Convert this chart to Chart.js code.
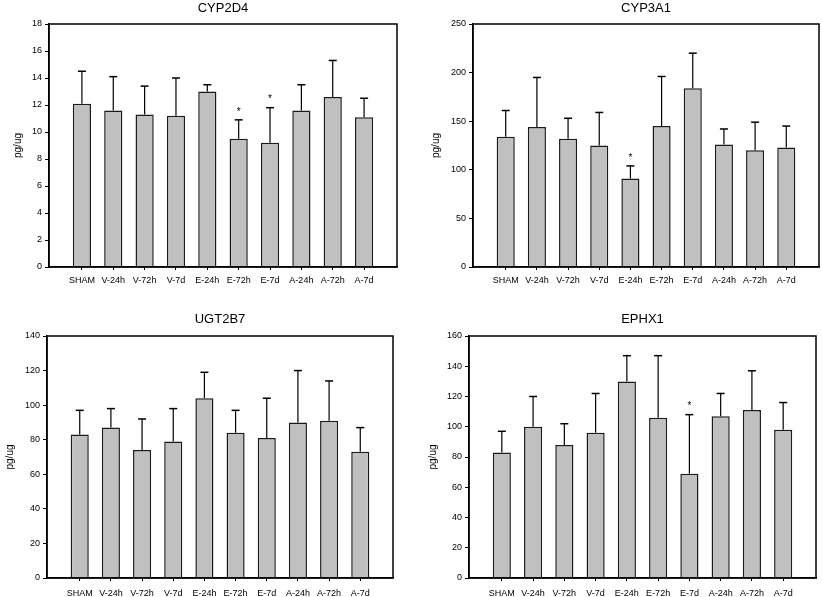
<!DOCTYPE html>
<html>
<head>
<meta charset="utf-8">
<script src="https://cdn.jsdelivr.net/npm/chart.js@4.4.1/dist/chart.umd.min.js"></script>
<style>
  html, body { margin: 0; padding: 0; background: #fff; overflow: hidden; }
  .panel { position: absolute; }
</style>
</head>
<body>
<div class="panel" id="p1"><canvas id="c1"></canvas></div>
<div class="panel" id="p2"><canvas id="c2"></canvas></div>
<div class="panel" id="p3"><canvas id="c3"></canvas></div>
<div class="panel" id="p4"><canvas id="c4"></canvas></div>
<script>
// Data
const categories = ['SHAM', 'V-24h', 'V-72h', 'V-7d', 'E-24h', 'E-72h', 'E-7d', 'A-24h', 'A-72h', 'A-7d'];

const cyp2d4Mean = [12.1, 11.6, 11.3, 11.2, 13.0, 9.5, 9.2, 11.6, 12.6, 11.1];
const cyp2d4Err = [2.4, 2.5, 2.1, 2.8, 0.5, 1.4, 2.6, 1.9, 2.7, 1.4];
const cyp2d4Stars = [5, 6];
const cyp2d4Ticks = [0, 2, 4, 6, 8, 10, 12, 14, 16, 18];

const cyp3a1Mean = [134, 144, 132, 125, 91, 145, 184, 126, 120, 123];
const cyp3a1Err = [27, 51, 21, 34, 13, 51, 36, 16, 29, 22];
const cyp3a1Stars = [4];
const cyp3a1Ticks = [0, 50, 100, 150, 200, 250];

const ugt2b7Mean = [83, 87, 74, 79, 104, 84, 81, 90, 91, 73];
const ugt2b7Err = [14, 11, 18, 19, 15, 13, 23, 30, 23, 14];
const ugt2b7Stars = [];
const ugt2b7Ticks = [0, 20, 40, 60, 80, 100, 120, 140];

const ephx1Mean = [83, 100, 88, 96, 130, 106, 69, 107, 111, 98];
const ephx1Err = [14, 20, 14, 26, 17, 41, 39, 15, 26, 18];
const ephx1Stars = [6];
const ephx1Ticks = [0, 20, 40, 60, 80, 100, 120, 140, 160];

const FONT = 'Liberation Sans, Arial, sans-serif';

// box around the plot area
const frame = {
  id: 'frame',
  afterDatasetsDraw(chart) {
    const a = chart.chartArea, ctx = chart.ctx;
    ctx.save();
    ctx.strokeStyle = '#000';
    ctx.lineWidth = 1.5;
    ctx.strokeRect(a.left, a.top, a.right - a.left, a.bottom - a.top);
    ctx.restore();
  }
};

// upper error bars + significance stars
function errorBars(mean, err, stars) {
  return {
    id: 'errorBars',
    afterDatasetsDraw(chart) {
      const ctx = chart.ctx, xs = chart.scales.x, ys = chart.scales.y;
      ctx.save();
      ctx.strokeStyle = '#000';
      ctx.fillStyle = '#000';
      ctx.font = '10px ' + FONT;
      ctx.textAlign = 'center';
      ctx.textBaseline = 'middle';
      mean.forEach((m, i) => {
        const px = xs.getPixelForValue(i);
        const y0 = ys.getPixelForValue(m);
        const y1 = ys.getPixelForValue(m + err[i]);
        ctx.lineWidth = 1.2;
        ctx.beginPath(); ctx.moveTo(px, y0); ctx.lineTo(px, y1); ctx.stroke();
        ctx.lineWidth = 1.5;
        ctx.beginPath(); ctx.moveTo(px - 4, y1); ctx.lineTo(px + 4, y1); ctx.stroke();
        if (stars.includes(i)) ctx.fillText('*', px, y1 - 8);
      });
      ctx.restore();
    }
  };
}

// panel geometry in page pixels
function makeChart(n, box, title, mean, err, stars, yTicks) {
  const div = document.getElementById('p' + n);
  div.style.left = box.x + 'px';
  div.style.top = box.y + 'px';
  const cv = document.getElementById('c' + n);
  cv.width = box.w; cv.height = box.h;
  cv.style.width = box.w + 'px'; cv.style.height = box.h + 'px';
  const l = box.l - box.x, r = box.r - box.x, t = box.t - box.y, b = box.b - box.y;
  const titleTop = box.titleY - box.y - 7.8;

  new Chart(cv, {
    type: 'bar',
    data: {
      datasets: [{
        data: mean.map((v, i) => ({ x: i, y: v })),
        backgroundColor: '#c0c0c0',
        borderColor: '#1a1a1a',
        borderWidth: 1.5,
        borderSkipped: 'start',
        barPercentage: 0.58,
        categoryPercentage: 1
      }]
    },
    options: {
      responsive: false,
      animation: false,
      layout: { padding: { left: 0, right: box.w - r, top: 0, bottom: 0 } },
      plugins: {
        legend: { display: false },
        tooltip: { enabled: false },
        title: {
          display: true,
          text: title,
          fullSize: false,
          color: '#000',
          font: { family: FONT, size: 13, weight: 'normal' },
          padding: { top: titleTop, bottom: t - titleTop - 15.6 }
        }
      },
      scales: {
        x: {
          type: 'linear',
          offset: false,
          min: -1.05,
          max: 10.05,
          afterBuildTicks: s => { s.ticks = categories.map((c, i) => ({ value: i })); },
          afterFit: s => { s.height = box.h - b; },
          ticks: {
            callback: v => categories[v],
            autoSkip: false,
            maxRotation: 0,
            padding: box.labelPad,
            color: '#000',
            font: { family: FONT, size: 9 }
          },
          grid: { offset: false, drawOnChartArea: false, drawTicks: true, tickLength: 3, color: '#000' },
          border: { color: '#000', width: 1.5 }
        },
        y: {
          min: 0,
          max: yTicks[yTicks.length - 1],
          afterBuildTicks: s => { s.ticks = yTicks.map(v => ({ value: v })); },
          afterFit: s => { s.width = l; },
          ticks: { padding: 3, color: '#000', font: { family: FONT, size: 9 } },
          grid: { drawOnChartArea: false, tickLength: 4, color: '#000' },
          border: { color: '#000', width: 1.5 },
          title: {
            display: true,
            text: 'pg/ug',
            color: '#000',
            font: { family: FONT, size: 10 },
            padding: { top: box.yTitleX - box.x - 6, bottom: 0 }
          }
        }
      }
    },
    plugins: [frame, errorBars(mean, err, stars)]
  });
}

makeChart(1, { x: 0, y: 0, w: 411, h: 296, l: 49, r: 397, t: 24, b: 267, titleY: 8, yTitleX: 18, labelPad: 5 },
  'CYP2D4', cyp2d4Mean, cyp2d4Err, cyp2d4Stars, cyp2d4Ticks);
makeChart(2, { x: 411, y: 0, w: 411, h: 296, l: 473, r: 819, t: 24, b: 267, titleY: 8, yTitleX: 436, labelPad: 5 },
  'CYP3A1', cyp3a1Mean, cyp3a1Err, cyp3a1Stars, cyp3a1Ticks);
makeChart(3, { x: 0, y: 296, w: 411, h: 301, l: 47, r: 393, t: 336, b: 578, titleY: 319, yTitleX: 10, labelPad: 7 },
  'UGT2B7', ugt2b7Mean, ugt2b7Err, ugt2b7Stars, ugt2b7Ticks);
makeChart(4, { x: 411, y: 296, w: 411, h: 301, l: 469, r: 816, t: 336, b: 578, titleY: 319, yTitleX: 433, labelPad: 7 },
  'EPHX1', ephx1Mean, ephx1Err, ephx1Stars, ephx1Ticks);
</script>
</body>
</html>
